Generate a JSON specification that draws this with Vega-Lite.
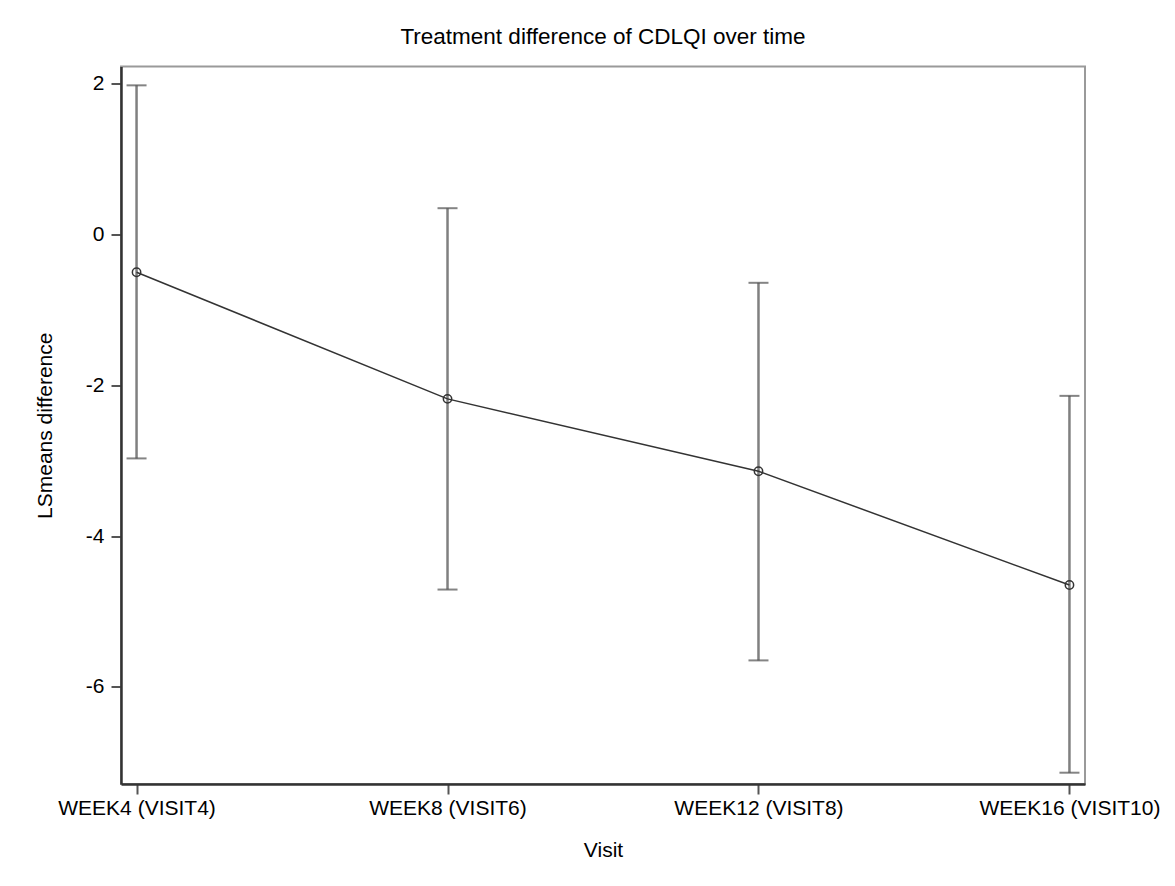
{
  "$schema": "https://vega.github.io/schema/vega-lite/v6.json",
  "autosize": "none",
  "width": 964,
  "height": 717.5,
  "padding": {"left": 121, "top": 66.5, "right": 90, "bottom": 102},
  "background": "white",
  "title": {
    "text": "Treatment difference of CDLQI over time",
    "font": "Liberation Sans",
    "fontSize": 22.5,
    "fontWeight": "normal",
    "color": "#000000",
    "anchor": "middle",
    "offset": 18
  },
  "data": {
    "values": [
      {"visit": "WEEK4 (VISIT4)", "lsmean_diff": -0.5, "lower": -2.97, "upper": 1.98},
      {"visit": "WEEK8 (VISIT6)", "lsmean_diff": -2.18, "lower": -4.71, "upper": 0.35},
      {"visit": "WEEK12 (VISIT8)", "lsmean_diff": -3.14, "lower": -5.65, "upper": -0.64},
      {"visit": "WEEK16 (VISIT10)", "lsmean_diff": -4.65, "lower": -7.14, "upper": -2.14}
    ]
  },
  "encoding": {
    "x": {
      "field": "visit",
      "type": "ordinal",
      "sort": null,
      "scale": {"type": "point", "padding": 0.05},
      "axis": {
        "title": "Visit",
        "labelAngle": 0,
        "labelPadding": 3,
        "labelLimit": 400,
        "titlePadding": 21
      }
    }
  },
  "layer": [
    {
      "mark": {"type": "rule", "color": "#808080", "strokeWidth": 2.5},
      "encoding": {
        "y": {
          "field": "lower",
          "type": "quantitative",
          "scale": {"domain": [-7.29, 2.23], "nice": false, "zero": false},
          "axis": {
            "title": "LSmeans difference",
            "values": [-6, -4, -2, 0, 2],
            "grid": false,
            "labelPadding": 7,
            "titlePadding": 30,
            "labelExpr": "datum.value < 0 ? '-' + abs(datum.value) : '' + datum.value"
          }
        },
        "y2": {"field": "upper"}
      }
    },
    {
      "mark": {"type": "tick", "orient": "horizontal", "color": "#505050", "size": 20, "thickness": 2},
      "encoding": {"y": {"field": "lower", "type": "quantitative"}}
    },
    {
      "mark": {"type": "tick", "orient": "horizontal", "color": "#505050", "size": 20, "thickness": 2},
      "encoding": {"y": {"field": "upper", "type": "quantitative"}}
    },
    {
      "mark": {"type": "line", "color": "#333333", "strokeWidth": 1.5},
      "encoding": {"y": {"field": "lsmean_diff", "type": "quantitative"}}
    },
    {
      "mark": {"type": "point", "shape": "circle", "filled": false, "size": 70, "stroke": "#333333", "strokeWidth": 1.5, "opacity": 1},
      "encoding": {"y": {"field": "lsmean_diff", "type": "quantitative"}}
    }
  ],
  "config": {
    "view": {"stroke": "#9a9a9a", "strokeWidth": 2},
    "axis": {
      "domainColor": "#333333",
      "domainWidth": 2.5,
      "tickColor": "#555555",
      "tickWidth": 2,
      "tickSize": 10,
      "labelFont": "Liberation Sans",
      "labelFontSize": 21,
      "labelColor": "#000000",
      "titleFont": "Liberation Sans",
      "titleFontSize": 21,
      "titleFontWeight": "normal",
      "titleColor": "#000000"
    }
  }
}
